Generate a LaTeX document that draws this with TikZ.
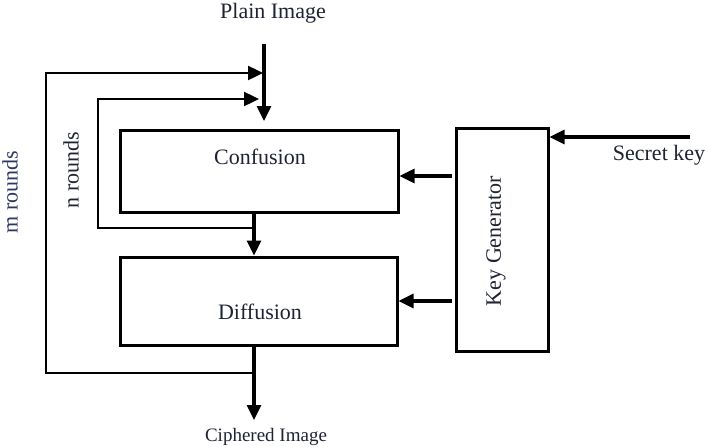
\documentclass[tikz,border=0pt]{standalone}
\usepackage{fontspec}
\setmainfont{Liberation Serif}
\usetikzlibrary{arrows.meta,calc}
\definecolor{txt}{RGB}{30,34,50}
\definecolor{mtxt}{RGB}{45,55,95}
\begin{document}
\begin{tikzpicture}[x=1pt,y=-1pt,
  box/.style={draw=black,line width=3pt,rectangle,inner sep=0pt},
  lbl/.style={font=\fontsize{22}{26}\selectfont,text=txt,inner sep=0pt},
  arr/.style={line width=3.2pt,-{Triangle[length=15pt,width=14pt]}},
  looparr/.style={line width=2.4pt,-{Triangle[length=15pt,width=14pt]}}]
\useasboundingbox (0,0) rectangle (708,447);
% boxes
\node[box,minimum width=278pt,minimum height=82pt] (conf) at (259,171) {};
\node[lbl] (conft) at (260,157) {Confusion};
\node[box,minimum width=277pt,minimum height=88pt] (diff) at (258.5,301) {};
\node[lbl] (difft) at (260,312) {Diffusion};
\node[box,minimum width=92pt,minimum height=223pt] (kg) at (502,239.5) {};
\node[lbl,rotate=90] (kgt) at (496,241) {Key Generator};
% texts
\node[lbl] (plain) at (273,13) {Plain Image};
\node[lbl,font=\fontsize{19}{23}\selectfont] (ciph) at (266,437) {Ciphered Image};
\node[lbl] (secret) at (659,155) {Secret key};
\node[lbl,rotate=90] (nr) at (71,170) {n rounds};
\node[lbl,rotate=90,text=mtxt] (mr) at (10,192) {m rounds};
% coordinates
\coordinate (pin) at (264,44);
\coordinate (ptip) at (264,121);
\coordinate (skin) at (690,137);
\coordinate (out) at (254,420);
\coordinate (nj) at (254,228);
\coordinate (mj) at (254,373);
\coordinate (nl1) at (98,228);
\coordinate (nl2) at (98,99);
\coordinate (nt) at (259,99);
\coordinate (ml1) at (46,373);
\coordinate (ml2) at (46,73);
\coordinate (mt) at (263,73);
% main flow
\draw[arr] (pin) -- (ptip);
\draw[arr] (conf.south -| nj) -- (diff.north -| nj);
\draw[arr] (diff.south -| mj) -- (out);
% loops
\draw[looparr] (nj) -- (nl1) -- (nl2) -- (nt);
\draw[looparr] (mj) -- (ml1) -- (ml2) -- (mt);
% key generator
\draw[arr] (kg.west |- 0,176) ++(-3,0) -- (conf.east |- 0,176);
\draw[arr] (kg.west |- 0,301) ++(-3,0) -- (diff.east |- 0,301);
\draw[arr] (skin) -- (kg.east |- skin);
\end{tikzpicture}
\end{document}
